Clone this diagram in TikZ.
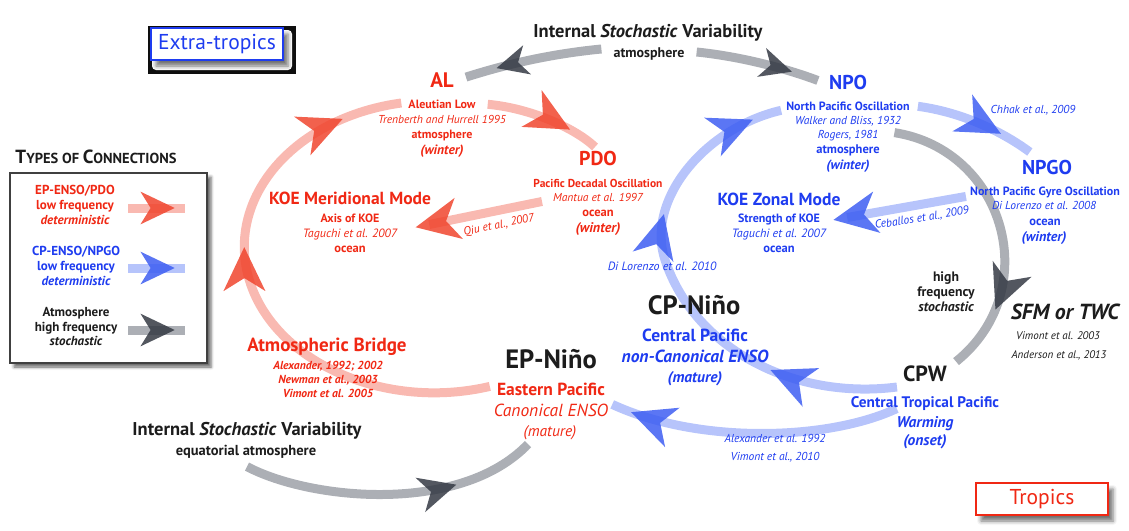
\documentclass[tikz,border=0pt]{standalone}
\usepackage{fontspec}
\setmainfont{PT Sans}
\usetikzlibrary{calc,decorations.markings,shadows.blur}

\definecolor{bgblue}{HTML}{ECF1FC}
\definecolor{bgpink}{HTML}{FDEEEC}
\definecolor{txtred}{HTML}{F02814}
\definecolor{txtblue}{HTML}{1E3CF0}
\definecolor{txtdark}{HTML}{1C1C1C}
\definecolor{flowred}{HTML}{F0503C}
\definecolor{flowblue}{HTML}{4A6CF5}
\definecolor{flowgray}{HTML}{5A606C}
\definecolor{headred}{HTML}{F0452E}
\definecolor{headblue}{HTML}{3E5EF2}
\definecolor{headgray}{HTML}{353A44}

\newcommand{\fsz}[1]{\fontsize{#1}{#1}\selectfont}

\pgfdeclarelayer{background}
\pgfdeclarelayer{flows}
\pgfsetlayers{background,flows,main}

\tikzset{
  head colour/.store in=\flowheadcol,
  head scale/.store in=\flowheadscale,
  head scale=1,
  flow/.style={line width=9pt, draw opacity=.4},
  redflow/.style={flow, draw=flowred, head colour=headred},
  blueflow/.style={flow, draw=flowblue, head colour=headblue},
  grayflow/.style={flow, draw=flowgray, draw opacity=.5, head colour=headgray},
  % arrow head somewhere along a flow
  tip at/.style={postaction={decorate, decoration={markings,
      mark=at position #1 with {\fill[\flowheadcol, fill opacity=.85, scale=\flowheadscale]
        (0,0) -- (-44pt,21pt) -- (-31pt,0) -- (-44pt,-21pt) -- cycle;}}}},
  % arrow head past the end of a straight flow
  tip end/.style={postaction={decorate, decoration={markings,
      mark=at position .999 with {\fill[\flowheadcol, fill opacity=.85, scale=\flowheadscale]
        (14pt,0) -- (-30pt,21pt) -- (-17pt,0) -- (-30pt,-21pt) -- cycle;}}}},
  every node/.style={inner sep=0pt, anchor=mid},
  rd/.style={text=txtred},
  bl/.style={text=txtblue},
  dk/.style={text=txtdark},
  hub/.style={font=\fsz{21}\bfseries},
  nino/.style={font=\fsz{26.5}\bfseries, text=txtdark},
  modename/.style={font=\fsz{17.5}\bfseries},
  areaname/.style={font=\fsz{17.5}\bfseries},
  subname/.style={font=\fsz{12}\bfseries},
  cite/.style={font=\fsz{11.5}\itshape},
  season/.style={font=\fsz{13.5}\bfseries\itshape},
  legtext/.style={font=\fsz{13}\bfseries},
  forcing/.style={font=\fsz{18.5}\bfseries, text=txtdark},
  regionbox/.style={anchor=center, draw=#1, text=#1, line width=2.5pt, fill=white,
    minimum width=132pt, minimum height=32pt, font=\fsz{21.5},
    blur shadow={shadow xshift=5pt, shadow yshift=-6pt, shadow blur radius=4pt, shadow opacity=55}},
  legendbox/.style={anchor=center, draw=black!75, line width=2pt, fill=white,
    minimum width=197pt, minimum height=190pt,
    blur shadow={shadow xshift=4pt, shadow yshift=-4pt, shadow blur radius=3pt, shadow opacity=60}}
}

\begin{document}
\begin{tikzpicture}[x=1pt, y=-1pt]
\useasboundingbox (0,0) rectangle (1129,530);

% the two regions
\begin{pgfonlayer}{background}
  \fill[bgblue] (127,8) rectangle (1129,287);
  \fill[bgpink] (127,287) rectangle (1129,530);
  \draw[white, line width=2pt] (127,287) -- (1129,287);
  \draw[blue!8] (127,8.5) -- (1129,8.5);
\end{pgfonlayer}

\node[regionbox=txtblue] (extra) at (217,44) {Extra-tropics};
\node[regionbox=txtred] (trop) at (1042,499) {Tropics};

% legend
\node[dk, font=\bfseries] (legtitle) at (96,161) {\fsz{19}T\fsz{14.5}YPES OF \fsz{19}C\fsz{14.5}ONNECTIONS};
\node[legendbox] (legend) at (108.5,268) {};
\node[legtext, rd] (leg-ep-1) at (75,192) {EP-ENSO/PDO};
\node[legtext, rd] (leg-ep-2) at (75,207) {low frequency};
\node[legtext, rd, font=\fsz{13}\bfseries\itshape] (leg-ep-3) at (75,222) {deterministic};
\node[legtext, bl] (leg-cp-1) at (76,253) {CP-ENSO/NPGO};
\node[legtext, bl] (leg-cp-2) at (76,268) {low frequency};
\node[legtext, bl, font=\fsz{13}\bfseries\itshape] (leg-cp-3) at (76,283) {deterministic};
\node[legtext, dk] (leg-at-1) at (76,314) {Atmosphere};
\node[legtext, dk] (leg-at-2) at (76,329) {high frequency};
\node[legtext, dk, font=\fsz{13}\bfseries\itshape] (leg-at-3) at (76,343) {stochastic};
\draw[redflow, head scale=.78, tip at=.82] (128,208) -- (185,208);
\draw[blueflow, head scale=.78, tip at=.82] (128,268) -- (185,268);
\draw[grayflow, head scale=.78, tip at=.82] (128,330) -- (185,330);

% atmosphere forcing
\node[forcing] (isv-top) at (648,35) {Internal \textit{Stochastic} Variability};
\node[dk, subname, font=\fsz{14}\bfseries] (isv-top-1) at (649,55) {atmosphere};

% extra-tropics, red
\node[rd, hub] (al) at (442,85) {AL};
\node[rd, subname] (al-1) at (442,106) {Aleutian Low};
\node[rd, cite] (al-2) at (442,121) {Trenberth and Hurrell 1995};
\node[rd, subname] (al-3) at (442,136) {atmosphere};
\node[rd, season] (al-4) at (442,152) {(winter)};

\node[rd, hub, font=\fsz{20}\bfseries] (pdo) at (598,163) {PDO};
\node[rd, subname, font=\fsz{11.5}\bfseries] (pdo-1) at (598,185) {Pacific Decadal Oscillation};
\node[rd, cite] (pdo-2) at (598,199) {Mantua et al. 1997};
\node[rd, subname, font=\fsz{12.5}\bfseries] (pdo-3) at (598,214) {ocean};
\node[rd, season, font=\fsz{14}\bfseries\itshape] (pdo-4) at (598,230) {(winter)};

\node[rd, modename] (koem) at (350,202) {KOE Meridional Mode};
\node[rd, subname] (koem-1) at (350,220) {Axis of KOE};
\node[rd, cite, font=\fsz{12}\itshape] (koem-2) at (350,235) {Taguchi et al. 2007};
\node[rd, subname, font=\fsz{12.5}\bfseries] (koem-3) at (350,250) {ocean};

\node[rd, cite, rotate=12] (qiu) at (499,226) {Qiu et al., 2007};

% extra-tropics, blue
\node[bl, hub, font=\fsz{20}\bfseries] (npo) at (848,87) {NPO};
\node[bl, subname] (npo-1) at (848,108) {North Pacific Oscillation};
\node[bl, cite] (npo-2) at (848,122) {Walker and Bliss, 1932};
\node[bl, cite] (npo-3) at (848,136) {Rogers, 1981};
\node[bl, subname, font=\fsz{12.5}\bfseries] (npo-4) at (848,151) {atmosphere};
\node[bl, season] (npo-5) at (848,167) {(winter)};

\node[bl, cite] (chhak) at (1033,111) {Chhak et al., 2009};

\node[bl, hub, font=\fsz{20}\bfseries] (npgo) at (1047,172) {NPGO};
\node[bl, subname] (npgo-1) at (1045,193) {North Pacific Gyre Oscillation};
\node[bl, cite] (npgo-2) at (1044,207) {Di Lorenzo et al. 2008};
\node[bl, subname, font=\fsz{12.5}\bfseries] (npgo-3) at (1045,223) {ocean};
\node[bl, season, font=\fsz{14}\bfseries\itshape] (npgo-4) at (1044,239) {(winter)};

\node[bl, modename] (koez) at (779,203) {KOE Zonal Mode};
\node[bl, subname] (koez-1) at (779,220) {Strength of KOE};
\node[bl, cite, font=\fsz{12}\itshape] (koez-2) at (779,235) {Taguchi et al. 2007};
\node[bl, subname, font=\fsz{12.5}\bfseries] (koez-3) at (779,250) {ocean};

\node[bl, cite, rotate=9] (ceb) at (922,219) {Ceballos et al., 2009};
\node[bl, cite, font=\fsz{12}\itshape] (dil10) at (662,268) {Di Lorenzo et al. 2010};

% tropics
\node[nino] (cpn) at (694,312) {CP-Niño};
\node[bl, areaname] (cpn-1) at (695,339) {Central Pacific};
\node[bl, areaname, font=\fsz{17.5}\bfseries\itshape] (cpn-2) at (695,360) {non-Canonical ENSO};
\node[bl, font=\fsz{15.5}\bfseries\itshape] (cpn-3) at (695,380) {(mature)};

\node[nino] (epn) at (551,366) {EP-Niño};
\node[rd, areaname] (epn-1) at (551,393) {Eastern Pacific};
\node[rd, font=\fsz{17.5}\itshape] (epn-2) at (551,414) {Canonical ENSO};
\node[rd, font=\fsz{15.5}\itshape] (epn-3) at (550,434) {(mature)};

\node[rd, modename, font=\fsz{19}\bfseries] (ab) at (327,349) {Atmospheric Bridge};
\node[rd, font=\fsz{11.6}\bfseries\itshape] (ab-1) at (328,367) {Alexander, 1992; 2002};
\node[rd, font=\fsz{11.6}\bfseries\itshape] (ab-2) at (328,381) {Newman et al., 2003};
\node[rd, font=\fsz{11.6}\bfseries\itshape] (ab-3) at (328,395) {Vimont et al. 2005};

\node[forcing] (isv-bot) at (247,433) {Internal \textit{Stochastic} Variability};
\node[dk, subname, font=\fsz{14.5}\bfseries] (isv-bot-1) at (246,453) {equatorial atmosphere};

\node[dk, hub, font=\fsz{22}\bfseries] (cpw) at (925,379) {CPW};
\node[bl, font=\fsz{15.3}\bfseries] (cpw-1) at (925,405) {Central Tropical Pacific};
\node[bl, font=\fsz{15.5}\bfseries\itshape] (cpw-2) at (925,425) {Warming};
\node[bl, font=\fsz{15.5}\bfseries\itshape] (cpw-3) at (925,443) {(onset)};

\node[bl, cite] (alx) at (775,440) {Alexander et al. 1992};
\node[bl, cite] (vim10) at (775,458) {Vimont et al., 2010};

\node[dk, subname, font=\fsz{13.7}\bfseries] (hf-1) at (946,279) {high};
\node[dk, subname, font=\fsz{13.7}\bfseries] (hf-2) at (946,294) {frequency};
\node[dk, font=\fsz{13.7}\bfseries\itshape] (hf-3) at (946,309) {stochastic};

\node[dk, font=\fsz{21.8}\bfseries\itshape] (sfm) at (1065,317) {SFM or TWC};
\node[dk, font=\fsz{11}\itshape] (sfm-1) at (1058,337) {Vimont et al. 2003};
\node[dk, font=\fsz{11}\itshape] (sfm-2) at (1059,356) {Anderson et al., 2013};

% connections
\begin{pgfonlayer}{flows}
  \draw[redflow, tip at=.58, tip at=.89] ($(epn-1.west)+(-7,-3)$)
    arc[start angle=-73, end angle=-260, x radius=190pt, y radius=146pt];
  \draw[redflow, tip at=.74] ($(al-1.east)+(12,0)$) .. controls (530,108) and (575,128) .. ($(pdo.north)+(-3,-4)$);
  \draw[redflow, tip end] ($(pdo-2.west)+(-11,4)$) -- ($(koem-2.east)+(32,-10)$);

  \draw[blueflow, tip at=.26, tip at=.67, tip at=.94] ($(cpw.south west)+(-6,5)$)
    .. controls (795,400) and (695,350) .. (665,260)
    .. controls (645,200) and (705,128) .. ($(npo-1.west)+(-5,4)$);
  \draw[blueflow, tip at=.72] ($(npo-1.east)+(8,0)$) .. controls (960,112) and (1000,130) .. ($(npgo.north west)+(8,-8)$);
  \draw[blueflow, tip end] ($(npgo-1.west)+(-4,4)$) -- ($(koez-1.east)+(27,-2)$);
  \draw[blueflow, tip at=.93] ($(cpw-1.west)+(46,5)$) .. controls (830,440) and (700,445) .. ($(epn-2.east)+(4,-6)$);

  \draw[grayflow, head scale=.72, tip at=.77] ($(isv-top-1.west)+(-12,-5)$) .. controls (540,55) and (495,68) .. ($(al.east)+(12,-3)$);
  \draw[grayflow, head scale=.72, tip at=.78] ($(isv-top-1.east)+(12,-2)$) .. controls (745,57) and (790,70) .. ($(npo.west)+(-11,-2)$);
  \draw[grayflow, tip at=.78] ($(npo-3.east)+(16,-3)$) .. controls (1005,150) and (1045,290) .. ($(cpw.north east)+(9,-4)$);
  \draw[grayflow, head scale=.85, tip at=.72] ($(isv-bot-1.south)+(1,8)$) .. controls (310,500) and (460,515) .. ($(epn-3.south)+(-22,4)$);
\end{pgfonlayer}
\end{tikzpicture}
\end{document}
